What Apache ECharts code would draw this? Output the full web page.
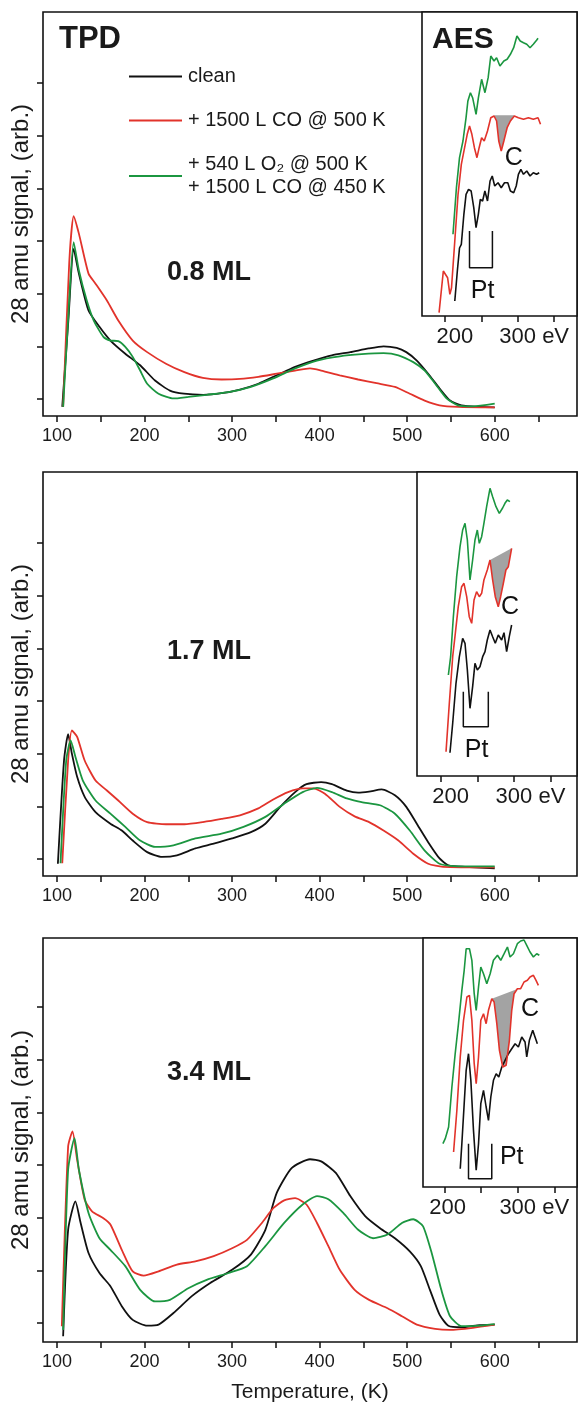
<!DOCTYPE html>
<html><head><meta charset="utf-8">
<script src="https://cdn.jsdelivr.net/npm/echarts@6/dist/echarts.min.js"></script>
<style>html,body{margin:0;padding:0;background:#fff}#c{width:579px;height:1406px}</style>
</head><body><div id="c"></div><script>
// ---------- data ----------
const xTickVals = [100,150,200,250,300,350,400,450,500,550,600,650];
const xLabelVals = [100,200,300,400,500,600];
const yTickVals = [0,1,2,3,4,5,6];
const aesTickVals = [200,250,300,350];
const aesLabelVals = [200,300];
const seriesNames = ['clean','+ 1500 L CO @ 500 K','+ 540 L O\u2082 @ 500 K\n+ 1500 L CO @ 450 K'];
const coverageLabels = ['0.8 ML','1.7 ML','3.4 ML'];

// TPD panel 1 (0.8 ML): [T (K), signal (arb.)]
const p1Clean = [[106,-0.15],[113,1.5],[119,2.85],[125,2.38],[136,1.68],[148.5,1.37],[161,1.11],[178,0.86],[195,0.64],[212,0.35],[229,0.16],[245,0.10],[267,0.08],[288,0.11],[309,0.18],[330,0.29],[351,0.45],[372,0.61],[393,0.73],[414,0.83],[435,0.89],[456,0.96],[473,1.0],[488,0.97],[499,0.89],[511,0.73],[524,0.48],[537,0.2],[549,-0.03],[562,-0.12],[583,-0.15],[600,-0.16]];
const p1CO = [[107,-0.15],[114,2.6],[119,3.47],[125,3.14],[136,2.38],[144,2.19],[157,1.87],[170,1.49],[186.5,1.11],[203,0.89],[224.5,0.67],[245.5,0.51],[266.6,0.40],[288,0.37],[309,0.38],[330,0.42],[351,0.48],[372,0.54],[389,0.58],[401.7,0.54],[423,0.45],[444,0.37],[465,0.30],[486,0.23],[503,0.10],[520,-0.03],[537,-0.12],[558,-0.15],[600,-0.16]];
const p1O2 = [[107,-0.15],[113,1.6],[119,2.98],[125,2.44],[134,1.87],[142,1.49],[153,1.18],[161,1.11],[170,1.10],[178,0.99],[186.5,0.8],[195,0.54],[203,0.29],[216,0.10],[233,0.01],[250,0.04],[271,0.08],[296,0.13],[321.5,0.23],[347,0.39],[372,0.58],[397,0.73],[423,0.81],[448,0.85],[473,0.87],[490,0.83],[507,0.70],[520,0.54],[532,0.29],[545,0.01],[558,-0.12],[575,-0.14],[600,-0.09]];

// TPD panel 2 (1.7 ML)
const p2Clean = [[101,-0.09],[108,1.87],[112.7,2.37],[117,2.0],[123,1.56],[131.6,1.18],[144,0.89],[161,0.67],[174,0.54],[186.5,0.35],[203,0.13],[220,0.04],[237,0.07],[258,0.2],[279,0.29],[300,0.39],[321.5,0.51],[338,0.67],[355,0.99],[372,1.27],[385,1.42],[401.7,1.46],[414,1.42],[431,1.30],[444,1.26],[456.5,1.28],[471,1.32],[486,1.21],[499,0.99],[511,0.67],[524,0.32],[537,0.01],[547,-0.12],[566,-0.15],[600,-0.18]];
const p2CO = [[106,-0.08],[112.7,1.87],[117,2.44],[123,2.32],[131.6,1.87],[144,1.49],[157,1.30],[170,1.11],[186.5,0.86],[203,0.70],[224.5,0.66],[245.5,0.66],[266.6,0.70],[288,0.76],[309,0.83],[330,0.96],[347,1.13],[364,1.27],[380.6,1.34],[393,1.34],[406,1.24],[423,0.99],[440,0.81],[456.5,0.70],[473,0.54],[490,0.35],[507,0.10],[524,-0.09],[541,-0.15],[600,-0.16]];
const p2O2 = [[104,-0.08],[110.5,1.87],[115.6,2.25],[121,1.94],[129.5,1.49],[144,1.11],[161,0.86],[178,0.61],[195,0.35],[212,0.23],[233,0.26],[258,0.39],[288,0.48],[313,0.61],[338,0.80],[359.5,1.05],[380.6,1.27],[397,1.35],[414,1.27],[431,1.15],[448,1.08],[469,1.02],[486,0.86],[503,0.54],[520,0.16],[537,-0.09],[558,-0.14],[600,-0.14]];

// TPD panel 3 (3.4 ML)
const p3Clean = [[107,-0.25],[112.7,1.77],[121,2.31],[127,1.90],[136,1.33],[148.5,0.95],[161,0.70],[174,0.32],[186.5,0.06],[203,-0.05],[216,-0.03],[233,0.19],[254,0.51],[275,0.76],[300,1.01],[321.5,1.30],[338,1.77],[351,2.47],[368,2.94],[389,3.11],[401.7,3.07],[418.5,2.85],[435,2.41],[452,2.03],[469,1.80],[486,1.61],[503,1.36],[515.6,1.08],[526,0.63],[537,0.16],[547,-0.05],[562,-0.08],[583,-0.04],[600,-0.03]];
const p3CO = [[105.5,-0.06],[112.7,3.35],[117.7,3.64],[123,3.10],[131.6,2.34],[140,2.12],[153,1.99],[161,1.87],[174,1.39],[186.5,0.98],[199,0.90],[216,0.98],[237,1.11],[258,1.17],[279,1.27],[300,1.42],[317,1.58],[334,1.90],[347,2.18],[359.5,2.33],[372,2.37],[385,2.25],[397,1.90],[410,1.46],[423,1.01],[440,0.63],[456.5,0.44],[477.6,0.28],[494,0.13],[511,-0.03],[532,-0.11],[549,-0.13],[575,-0.09],[600,-0.03]];
const p3O2 = [[107,-0.13],[112.7,2.91],[120,3.51],[125,2.91],[136,2.09],[148.5,1.61],[161,1.39],[178,1.08],[195,0.63],[212,0.41],[229,0.44],[250,0.66],[271,0.82],[296,0.95],[317,1.08],[338,1.46],[359.5,1.90],[380.6,2.25],[397,2.41],[410,2.35],[427,2.09],[444,1.77],[461,1.61],[477.6,1.68],[494,1.90],[507,1.97],[518,1.84],[528,1.33],[539,0.63],[549,0.13],[562,-0.06],[583,-0.05],[600,-0.02]];

// AES insets: [energy (eV), signal (arb.)]
const a1Clean = [[213.5,15],[217,45],[220,68],[222.5,71.7],[226,101.7],[229,121.7],[232.4,126.7],[236,125],[239.6,108.3],[242.75,88.3],[245.9,101.7],[248.6,116.7],[251.75,115],[254.9,125],[258.5,115],[262,135],[265,140],[268.4,130],[273,133.3],[277.4,128.3],[281.9,133.3],[286.4,133.3],[290,125],[294.5,123.3],[298,130],[301,141.7],[304.4,146.7],[308,141.7],[312.5,145],[317,140],[321.5,143.3],[326,141.7],[329.6,143.3]];
const a1CO = [[191.9,3.3],[197.75,45],[200,46.7],[203.6,38.3],[206.75,21.7],[209,28.3],[213.5,75],[218,121.7],[222.5,151.7],[227,168.3],[230.6,181.7],[233.75,190],[237,181.7],[240.5,168.3],[244,158.3],[247,168.3],[250.4,178.3],[254,175],[258.5,185],[263,198.3],[267.5,200],[271,195],[274,175],[277.4,165],[281,175],[285.5,188.3],[290,195],[295.4,200],[301,198.3],[308,196.7],[314.75,198.3],[321.5,196.7],[328,198.3],[331.4,191.7]];
const a1O2 = [[211,81.7],[215.75,128.3],[220,158.3],[224.75,175],[229,198.3],[231.5,215],[235,223.3],[238,218.3],[242.75,201.7],[246,218.3],[250.4,236.7],[255,223.3],[259.4,238.3],[263,260],[267.5,255],[271,258.3],[275.6,250],[281,255],[285.5,256.7],[290,261.7],[294.5,268.3],[299,280],[303.5,275],[308,273.3],[312.5,271.7],[317,268.3],[321.5,271.7],[326,275.7],[328,277.7]];
const a1FillTop = [[267.5,200.7],[295.4,200.7]];
const a1Bracket = [[233.75,85],[233.75,48.3],[265.25,48.3],[265.25,85]];
const a1PtAt = [251.75,25];
const a1CAt = [294.5,158];

const a2Clean = [[212.7,23.3],[216.4,52.7],[220.9,92.7],[225.5,119.3],[230,137.7],[233.2,132.7],[236.4,106],[240,67.7],[243.6,89.3],[246.8,112.7],[250,106],[253.6,109.3],[257.3,119.3],[260.5,124.3],[263.6,136],[267.3,146],[270.9,139.3],[274.5,132.7],[278.6,141],[283.2,136],[286.4,143.3],[290,124.3],[293.6,139.3],[296.8,151]];
const a2CO = [[207.3,24.3],[211.8,72.7],[216.4,119.3],[219.5,139.3],[224,169.3],[228.6,189.3],[231.8,192.7],[235.5,179.3],[239,159.3],[242.3,152.7],[245.5,176],[249,184.3],[252.7,179.3],[255.9,182.7],[259,196],[263.6,206],[267.3,216],[270.9,196],[274.5,179.3],[278.6,169.3],[281.8,179.3],[285.5,192.7],[289,206],[292.3,209.3],[296.8,227.7]];
const a2O2 = [[210.5,101],[213.6,119.3],[217.3,159.3],[221.8,199.3],[226.4,229.3],[230,246],[233.2,252.7],[236.4,236],[240,196],[243.6,216],[246.8,236],[250,246],[252.7,232.7],[255.9,239.3],[259,252.7],[262.7,269.3],[267.3,287.7],[270.9,279.3],[275.5,269.3],[280,262.7],[284.5,268],[287.7,272.7],[290.9,276],[294.5,274.3]];
const a2FillTop = [[267.3,216],[296.8,227.7]];
const a2Bracket = [[230.9,84.3],[230.9,49.3],[265,49.3],[265,84.3]];
const a2PtAt = [249,26];
const a2CAt = [294.5,169.3];

const a3Clean = [[221.4,18.3],[223.6,43.3],[226.8,83.3],[229.5,116.7],[232.7,133.3],[235.9,106.7],[239.5,56.7],[243.2,16.7],[246.4,43.3],[249.5,83.3],[253.2,96.7],[256.8,80],[260,66.7],[263.2,90],[266.8,106.7],[270.5,113.3],[274.1,110],[278.2,120],[282.7,126.7],[287.3,133.3],[291.8,138.3],[296.4,143.3],[300.9,140],[305.5,150],[310,145],[312.3,130],[315.9,146.7],[320.5,156.7],[323.6,150],[326.8,143.3]];
const a3CO = [[212.3,35],[216.8,76.7],[221.4,130],[225.9,166.7],[230.5,190],[234,191.7],[237.3,166.7],[240.5,123.3],[243.2,103.3],[246.4,130],[249.5,166.7],[253.2,173.3],[256.8,163.3],[260,176.7],[264.5,188.3],[267.7,185],[271.4,163.3],[275,136.7],[279.5,120],[284.1,121.7],[288.6,146.7],[291.8,176.7],[295,193.3],[299.5,198.3],[304,198.3],[308.6,205],[313.2,206.7],[316.8,210],[321.4,211.7],[325,206.7],[328.2,201.7]];
const a3O2 = [[197.7,43.3],[200.9,48.3],[205.5,60],[210,100],[214.5,133.3],[219,163.3],[223.6,196.7],[226.8,216.7],[229.5,238.3],[234,238.3],[237.3,226.7],[240.5,193.3],[243.2,176.7],[246.4,200],[249.5,220],[253.2,213.3],[257.7,203.3],[262.3,213.3],[266.8,226.7],[272.3,231.7],[276.8,226.7],[281.4,233.3],[285.9,240],[289.5,230],[294.1,233.3],[299.5,243.3],[304,246],[308.6,247],[312.3,241.7],[316.8,235],[321.4,230],[325.9,233.3],[329.5,231.7]];
const a3FillTop = [[264.5,188.3],[297.7,197.5]];
const a3Bracket = [[232.7,43.3],[232.7,8.3],[264.5,8.3],[264.5,43.3]];
const a3PtAt = [291.8,30];
const a3CAt = [316.8,178];

// ---------- layout & style ----------
const FONT = '"Liberation Sans", Arial, Helvetica, sans-serif';
const BLACK = '#111111', RED = '#e2332b', GREEN = '#1b9640', GRAY = '#a3a3a3', TXT = '#1a1a1a';
const panels = [
  {top:12,  h:404, yMin:-0.323, yMax:7.348, tpd:[p1Clean,p1CO,p1O2], aes:[a1Clean,a1CO,a1O2], fillTop:a1FillTop, bracket:a1Bracket, pt:a1PtAt, c:a1CAt,
   inset:{left:422, w:155, h:304, xMin:168.4, xMax:381.6, yMax:304, pad:20}, labelY:273},
  {top:472, h:404, yMin:-0.323, yMax:7.348, tpd:[p2Clean,p2CO,p2O2], aes:[a2Clean,a2CO,a2O2], fillTop:a2FillTop, bracket:a2Bracket, pt:a2PtAt, c:a2CAt,
   inset:{left:417, w:160, h:304, xMin:167.7, xMax:386, yMax:304, pad:20}, labelY:652},
  {top:938, h:404, yMin:-0.36, yMax:7.31, tpd:[p3Clean,p3CO,p3O2], aes:[a3Clean,a3CO,a3O2], fillTop:a3FillTop, bracket:a3Bracket, pt:a3PtAt, c:a3CAt,
   inset:{left:423, w:154, h:249, xMin:170.5, xMax:381, yMax:249, pad:6}, labelY:1073}
];
const colors = [BLACK, RED, GREEN];

const grid = [], xAxis = [], yAxis = [], series = [], graphic = [];
panels.forEach((p, i) => {
  const gm = 2*i, gi = 2*i+1;
  grid.push({left:43, width:534, top:p.top, height:p.h, show:true, borderColor:'#111', borderWidth:1.6, backgroundColor:'transparent'});
  grid.push({left:p.inset.left, width:577-p.inset.left, top:p.top, height:p.inset.h, show:true, borderColor:'#111', borderWidth:1.6, backgroundColor:'#fff'});
  const xm = {gridIndex:gm, type:'value', position:'bottom', min:84, max:694,
    axisLine:{show:false, onZero:false}, splitLine:{show:false},
    axisTick:{show:true, inside:false, length:6, customValues:xTickVals, lineStyle:{color:'#111', width:1.5}},
    axisLabel:{show:true, customValues:xLabelVals, fontSize:18, color:TXT, margin:11, fontFamily:FONT}};
  if (i === 2) Object.assign(xm, {name:'Temperature, (K)', nameLocation:'middle', nameGap:40,
    nameTextStyle:{fontSize:21, color:TXT, fontFamily:FONT}});
  xAxis.push(xm);
  xAxis.push({gridIndex:gi, type:'value', position:'bottom', min:p.inset.xMin, max:p.inset.xMax,
    axisLine:{show:false, onZero:false}, splitLine:{show:false},
    axisTick:{show:true, inside:false, length:6, customValues:aesTickVals, lineStyle:{color:'#111', width:1.5}},
    axisLabel:{show:true, customValues:aesLabelVals, fontSize:22, color:TXT, margin:10, fontFamily:FONT,
      formatter: v => v === 200 ? '{p|\u00a0}200' : '{q|\u00a0}300 eV',
      rich:{p:{width:p.inset.pad, fontSize:22}, q:{width:33, fontSize:22}}}});
  yAxis.push({gridIndex:gm, type:'value', position:'left', min:p.yMin, max:p.yMax,
    axisLine:{show:false, onZero:false}, splitLine:{show:false},
    axisTick:{show:true, inside:false, length:6, customValues:yTickVals, lineStyle:{color:'#111', width:1.5}},
    axisLabel:{show:false},
    name:'28 amu signal, (arb.)', nameLocation:'middle', nameRotate:90, nameGap:10,
    nameTextStyle:{fontSize:24, color:TXT, fontFamily:FONT}});
  yAxis.push({gridIndex:gi, type:'value', min:0, max:p.inset.yMax, show:false, splitLine:{show:false}});

  p.tpd.forEach((d, k) => series.push({type:'line', name:seriesNames[k], xAxisIndex:gm, yAxisIndex:gm, data:d,
    symbol:'none', smooth:0.2, lineStyle:{color:colors[k], width:1.8}, itemStyle:{color:colors[k]}, z:3}));

  // gray carbon area between straight top line and the red AES curve
  const red = p.aes[1], ft = p.fillTop;
  const poly = [ft[0], ft[1]].concat(red.filter(q => q[0] > ft[0][0] && q[0] < ft[1][0]).reverse());
  series.push({type:'custom', xAxisIndex:gi, yAxisIndex:gi, data:[[ft[0][0], ft[0][1]]], z:2, silent:true,
    renderItem:(params, api) => ({type:'polygon', shape:{points: poly.map(q => api.coord(q))}, style:{fill:GRAY}})});
  p.aes.forEach((d, k) => series.push({type:'line', name:'AES '+k, xAxisIndex:gi, yAxisIndex:gi, data:d,
    symbol:'none', lineStyle:{color:colors[k], width:1.6}, itemStyle:{color:colors[k]}, z:3}));
  series.push({type:'line', name:'Pt bracket', xAxisIndex:gi, yAxisIndex:gi, data:p.bracket, symbol:'none',
    lineStyle:{color:'#111', width:1.5}, z:3});
  series.push({type:'scatter', name:'labels', xAxisIndex:gi, yAxisIndex:gi, symbolSize:0, silent:true,
    itemStyle:{color:'#111', opacity:1}, z:4,
    label:{show:true, position:'inside', fontSize:25, color:'#111', opacity:1, fontFamily:FONT},
    data:[{value:p.pt, label:{formatter:'Pt'}}, {value:p.c, label:{formatter:'C'}}]});

  graphic.push({type:'text', x:167, y:p.labelY, style:{text:coverageLabels[i], font:'bold 27px '+FONT, fill:TXT, align:'left', verticalAlign:'middle'}});
});
graphic.push({type:'text', x:59, y:39, style:{text:'TPD', font:'bold 31px '+FONT, fill:TXT, align:'left', verticalAlign:'middle'}});
graphic.push({type:'text', x:432, y:40, style:{text:'AES', font:'bold 30px '+FONT, fill:TXT, align:'left', verticalAlign:'middle'}});

const chart = echarts.init(document.getElementById('c'), null, {renderer:'canvas'});
chart.setOption({
  animation:false,
  backgroundColor:'#fff',
  grid, xAxis, yAxis, series, graphic,
  legend:{data:seriesNames, orient:'vertical', left:124, top:60, itemWidth:53, itemHeight:14, itemGap:21,
    selectedMode:false, icon:'path://M0,6 L53,6 L53,8 L0,8 Z',
    textStyle:{fontSize:20, lineHeight:23, color:TXT, fontFamily:FONT, padding:[0,0,0,1]}}
});
</script></body></html>
